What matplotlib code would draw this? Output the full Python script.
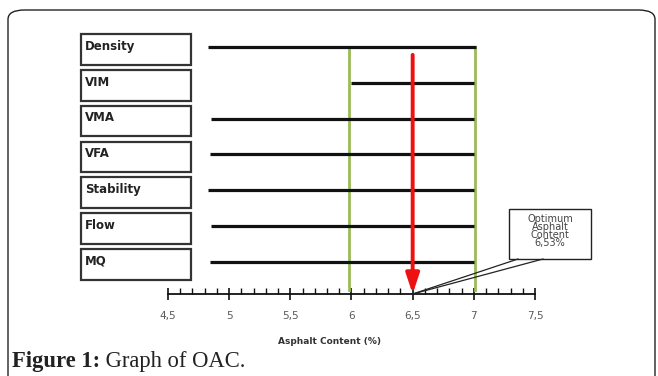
import matplotlib
matplotlib.use("Agg")
import matplotlib.pyplot as plt
import numpy as np
from matplotlib.patches import Rectangle, FancyBboxPatch
from matplotlib.ticker import FixedLocator

# ---- data ----
properties = ["Density", "VIM", "VMA", "VFA", "Stability", "Flow", "MQ"]
range_start = [4.83, 6.0, 4.85, 4.84, 4.83, 4.85, 4.84]
range_end = [7.02, 7.0, 7.0, 7.0, 7.0, 7.0, 7.0]
limit_lines = [5.98, 7.01]
oac = 6.5
oac_label = "Optimum\nAsphalt\nContent\n6,53%"
x_ticks = [4.5, 5.0, 5.5, 6.0, 6.5, 7.0, 7.5]
x_tick_labels = ["4,5", "5", "5,5", "6", "6,5", "7", "7,5"]
x_label = "Asphalt Content (%)"
caption_bold = "Figure 1:"
caption_rest = " Graph of OAC."

W, H = 658, 376
fig = plt.figure(figsize=(W / 100, H / 100), dpi=100)

# rounded frame
frame = FancyBboxPatch((8 / W, -0.2), (655 - 8) / W, (H - 10) / H + 0.2,
                       boxstyle="round,pad=0,rounding_size=0.025",
                       transform=fig.transFigure, fill=False,
                       edgecolor="#222222", linewidth=1.0)
fig.patches.append(frame)

ax = fig.add_axes([0, 0, 1, 1])
ax.patch.set_alpha(0)
px_per_unit = 122.33
x_left = 4.5 - 168 / px_per_unit
x_right = 4.5 + (W - 168) / px_per_unit
row_px0, row_step = 47, 35.8
ax.set_xlim(x_left, x_right)
ax.set_ylim((H - row_px0) / row_step, -row_px0 / row_step)

axis_y = (294 - row_px0) / row_step

for s in ["top", "left", "right"]:
    ax.spines[s].set_visible(False)
ax.spines["bottom"].set_position(("data", axis_y))
ax.spines["bottom"].set_bounds(x_ticks[0], x_ticks[-1])
ax.spines["bottom"].set_linewidth(1.3)
ax.spines["bottom"].set_color("#111111")
ax.set_yticks([])
ax.set_xticks(x_ticks)
ax.set_xticklabels(x_tick_labels)
minor = [round(v, 1) for v in np.arange(x_ticks[0], x_ticks[-1] + 0.01, 0.1)]
ax.xaxis.set_minor_locator(FixedLocator(minor))
ax.tick_params(axis="x", which="major", direction="inout", length=9, width=1.2,
               color="#111111", labelsize=7.5, labelcolor="#5a5a5a", pad=8)
ax.tick_params(axis="x", which="minor", direction="in", length=4, width=1.0,
               color="#111111")
ax.xaxis.set_label_coords(350 / W, 1 - 337 / H, transform=fig.transFigure)
ax.set_xlabel(x_label, fontsize=6.5, fontweight="bold", color="#333333")

# property rows
for i, (name, a, b) in enumerate(zip(properties, range_start, range_end)):
    ax.plot([a, b], [i, i], color="#111111", linewidth=2.3, solid_capstyle="butt", zorder=3)
    bx0 = x_left + 81 / px_per_unit
    bw = 110 / px_per_unit
    rect = Rectangle((bx0, i - 0.36), bw, 0.86, fill=True, facecolor="white",
                     edgecolor="#333333", linewidth=1.6, zorder=2)
    ax.add_patch(rect)
    ax.text(bx0 + 4 / px_per_unit, i - 0.02, name, fontsize=8.5, fontweight="bold",
            color="#222222", ha="left", va="center", zorder=4)

# limit lines
for xv in limit_lines:
    ax.plot([xv, xv], [0, axis_y - 0.1], color="#9bbb59", linewidth=2.0, zorder=2)

# OAC arrow
ax.annotate("", xy=(oac, axis_y), xytext=(oac, 0.22),
            arrowprops=dict(arrowstyle="-|>,head_length=1.2,head_width=0.4",
                            color="#ee1111", linewidth=2.8, shrinkA=0, shrinkB=0),
            zorder=5)

# callout box
cb_x0 = x_left + 509 / px_per_unit
cb_x1 = x_left + 591 / px_per_unit
cb_y0 = (209 - row_px0) / row_step
cb_y1 = (259 - row_px0) / row_step
ax.add_patch(Rectangle((cb_x0, cb_y0), cb_x1 - cb_x0, cb_y1 - cb_y0, fill=True,
                       facecolor="white", edgecolor="#222222", linewidth=1.0, zorder=4))
ax.text((cb_x0 + cb_x1) / 2, (cb_y0 + cb_y1) / 2 - 0.08, oac_label, fontsize=7,
        color="#444444", ha="center", va="center", linespacing=0.78, zorder=5)
for lx in [518, 543]:
    ax.plot([x_left + lx / px_per_unit, oac], [cb_y1, axis_y], color="#222222",
            linewidth=0.9, zorder=4)

# caption
t = fig.text(12 / W, 1 - 367 / H, caption_bold, fontsize=16.3, fontweight="bold",
             family="Liberation Serif", color="#222222", va="baseline")
fig.canvas.draw()
bb = t.get_window_extent()
fig.text(bb.x1 / W, 1 - 367 / H, caption_rest, fontsize=16.3,
         family="Liberation Serif", color="#222222", va="baseline")

fig.savefig("out.png", dpi=100)
